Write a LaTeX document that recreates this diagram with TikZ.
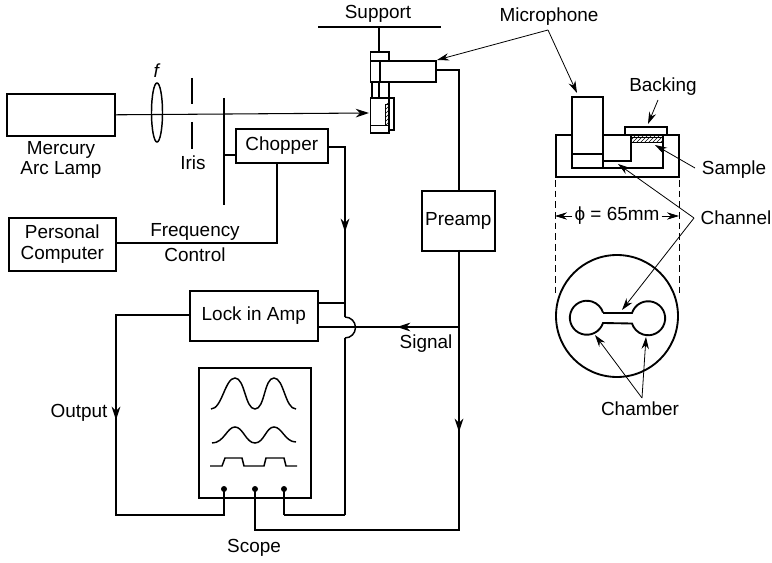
\documentclass[tikz,border=0pt]{standalone}
\usepackage{fontspec}
\setmainfont{Liberation Sans}
\usetikzlibrary{arrows.meta,patterns,shapes.geometric}
\tikzset{
  x=0.75pt,y=-0.75pt,
  ln/.style={line width=1.1pt,line join=miter},
  thin ln/.style={line width=0.6pt},
  thick ln/.style={line width=1.4pt},
  arr/.style={-{Stealth[length=9pt,width=5.5pt]},line width=0.6pt},
  flow/.style={-{Stealth[length=10pt,width=6.5pt]},line width=1pt},
  lab/.style={inner sep=0pt,font=\fontsize{14.2}{15}\selectfont,align=center,text=black},
  box/.style={draw,line width=1.2pt,inner sep=0pt,anchor=north west,fill=none},
  dashln/.style={line width=0.5pt,dash pattern=on 5pt off 3pt},
  pin/.style={circle,fill=black,inner sep=0pt,minimum size=4.5pt}
}
\begin{document}
\begin{tikzpicture}
\useasboundingbox (0,0) rectangle (772,563);
% boxes
\node[box,minimum width=108*0.75pt,minimum height=42*0.75pt] (lamp) at (6,93) {};
\node[box,minimum width=92*0.75pt,minimum height=34*0.75pt] (chop) at (235,128) {};
\node[box,minimum width=107*0.75pt,minimum height=53*0.75pt] (pc) at (8,217) {};
\node[box,minimum width=73*0.75pt,minimum height=60*0.75pt] (pre) at (421,190) {};
\node[box,minimum width=128*0.75pt,minimum height=50*0.75pt] (lock) at (189,290) {};
\node[box,minimum width=112*0.75pt,minimum height=130*0.75pt] (scope) at (198,367) {};
% labels
\node[lab] (tlamp) at (61,160) {Mercury\\Arc Lamp};
\node[lab] (tiris) at (193,163) {Iris};
\node[lab] (tf) at (157,71) {\textit{f}};
\node[lab] at (chop.center) {Chopper};
\node[lab] at (pc.center) {Personal\\[0.5pt]Computer};
\node[lab] at (pre.center) {Preamp};
\node[lab] at (lock.center) {Lock in Amp};
\node[lab] (tfreq) at (195,232) {Frequency};
\node[lab] (tctrl) at (195,255) {Control};
\node[lab] (tsig) at (426,344) {Signal};
\node[lab] (tout) at (79,413) {Output};
\node[lab] (tscope) at (254,548) {Scope};
\node[lab] (tsup) at (378,14) {Support};
\node[lab] (tmic) at (549,17) {Microphone};
\node[lab] (tback) at (663,87) {Backing};
\node[lab] (tsamp) at (734,170) {Sample};
\node[lab] (tchan) at (736,218) {Channel};
\node[lab] (tcham) at (640,409) {Chamber};
% lens, iris, chopper blade
\node[draw,ellipse,line width=1.1pt,minimum width=11*0.75pt,minimum height=59*0.75pt,inner sep=0pt] (lens) at (157,112.5) {};
\coordinate (det) at (369,113);
\draw[flow,line width=0.8pt] (lamp.east) -- (det);
\draw[ln] (192,78) -- (192,104);
\draw[ln] (192,122) -- (192,149);
\draw[thick ln] (224,98) -- (224,205);
\draw[thick ln] (224,155) -- (chop.west|-0,155);
% support & mic assembly
\draw[line width=2pt] (318,27) -- (441,27);
\draw[ln] (379,27) -- (379,52);
\draw[ln] (370.5,52) rectangle (389,61);
\draw[ln] (370.5,61) rectangle (380,82);
\draw[ln] (380,61) rectangle (436,82);
\draw[ln] (372,82) -- (372,98) (379,82) -- (379,98) (389,82) -- (389,98);
\draw[ln] (370.5,98) rectangle (389,133);
\draw[thin ln] (370.5,125) -- (389,125);
\draw[thin ln,pattern=north east lines] (385,104) rectangle (389,125);
\draw[ln] (389,98) -- (394,98) -- (394,130) -- (389,130);
% wiring
\coordinate (micr) at (436,70);
\coordinate (hopA) at (345,317);
\coordinate (hopB) at (345,338);
\coordinate (botR) at (345,515);
\coordinate (botL) at (284,515);
\draw[ln] (micr) -- (459,70) -- (459,190);
\draw[ln] (459,250) -- (459,530) -- (255,530) -- (255,489);
\draw[ln] (chop.east|-0,147) -- (345,147) -- (hopA);
\draw[ln] (hopA) arc[start angle=-90,end angle=90,radius=10.5];
\draw[line width=1.2pt] (hopB) -- (botR);
\draw[line width=1.2pt] (botR) -- (botL);
\draw[line width=1.2pt] (botL) -- (284,489);
\draw[line width=0.8pt] (lock.east|-0,303) -- (345,303);
\draw[line width=0.8pt] (lock.east|-0,327) -- (459,327);
\draw[ln] (lock.west|-0,315) -- (116,315) -- (116,515) -- (224,515) -- (224,489);
\draw[ln] (pc.east|-0,243) -- (277,243) -- (277,162);
\draw[flow] (345,200) -- (345,232);
\draw[flow] (459,400) -- (459,432);
\draw[flow] (116,395) -- (116,420);
\draw[flow,line width=.8pt] (430,327) -- (397,327);
\node[pin] (p1) at (224,489) {};
\node[pin] (p2) at (255,489) {};
\node[pin] (p3) at (284,489) {};
% waves
\draw[ln] (211,409) .. controls (222,409) and (225,378) .. (235,378) .. controls (245,378) and (245,409) .. (255,409) .. controls (265,409) and (264,378) .. (274,378) .. controls (284,378) and (285,409) .. (296,409);
\draw[ln] (212,443) .. controls (224,443) and (227,427) .. (235,427) .. controls (243,427) and (246,443) .. (255,443) .. controls (264,443) and (266,427) .. (274,427) .. controls (282,427) and (285,442) .. (296,442);
\draw[ln] (210,466) -- (222,466) -- (225,458) -- (242,458) -- (244,466) -- (264,466) -- (266,458) -- (284,458) -- (286,466) -- (297,466);
% right: cell
\draw[thick ln] (572,135) -- (556,135) -- (556,177) -- (679,177) -- (679,135) -- (667,135);
\draw[thick ln] (603,135) -- (631,135);
\draw[thick ln] (572,97) rectangle (603,168);
\draw[thick ln] (572,168) -- (663,168) -- (663,135);
\draw[ln] (572,154) -- (603,154);
\draw[thick ln] (603,161) -- (631,161) -- (631,135);
\draw[thick ln] (625,135) -- (625,127) -- (667,127) -- (667,135) -- (625,135);
\draw[thin ln,pattern=north east lines] (631,137) rectangle (663,142);
\draw[dashln] (555,180) -- (555,293);
\draw[dashln] (679,180) -- (679,293);
% dimension
\node[lab] (tphi) at (617,216) {ϕ = 65mm};
\draw[arr] (tphi.west) ++(-2,0) -- (555,216);
\draw[arr] (tphi.east) ++(2,0) -- (679,216);
% plan view
\node[draw,circle,line width=1.4pt,minimum size=122*0.75pt,inner sep=0pt] (disc) at (617,316) {};
\draw[thick ln] (603,313) -- (632,313) arc[start angle=-162,end angle=162,radius=17] -- (603,323) arc[start angle=18,end angle=342,radius=17];
% callouts
\coordinate (chanv) at (694,218);
\draw[arr] (chanv) -- (618,164);
\draw[arr] (chanv) -- (622,310);
\coordinate (micv) at (548,30);
\draw[arr] (micv) -- (437,60);
\draw[arr] (micv) -- (577,93);
\draw[arr] (658,100) -- (648,124);
\draw[arr] (695,168) -- (655,145);
\coordinate (chamv) at (642,398);
\draw[arr] (chamv) -- (595,335);
\draw[arr] (chamv) -- (646,337);
\end{tikzpicture}
\end{document}
